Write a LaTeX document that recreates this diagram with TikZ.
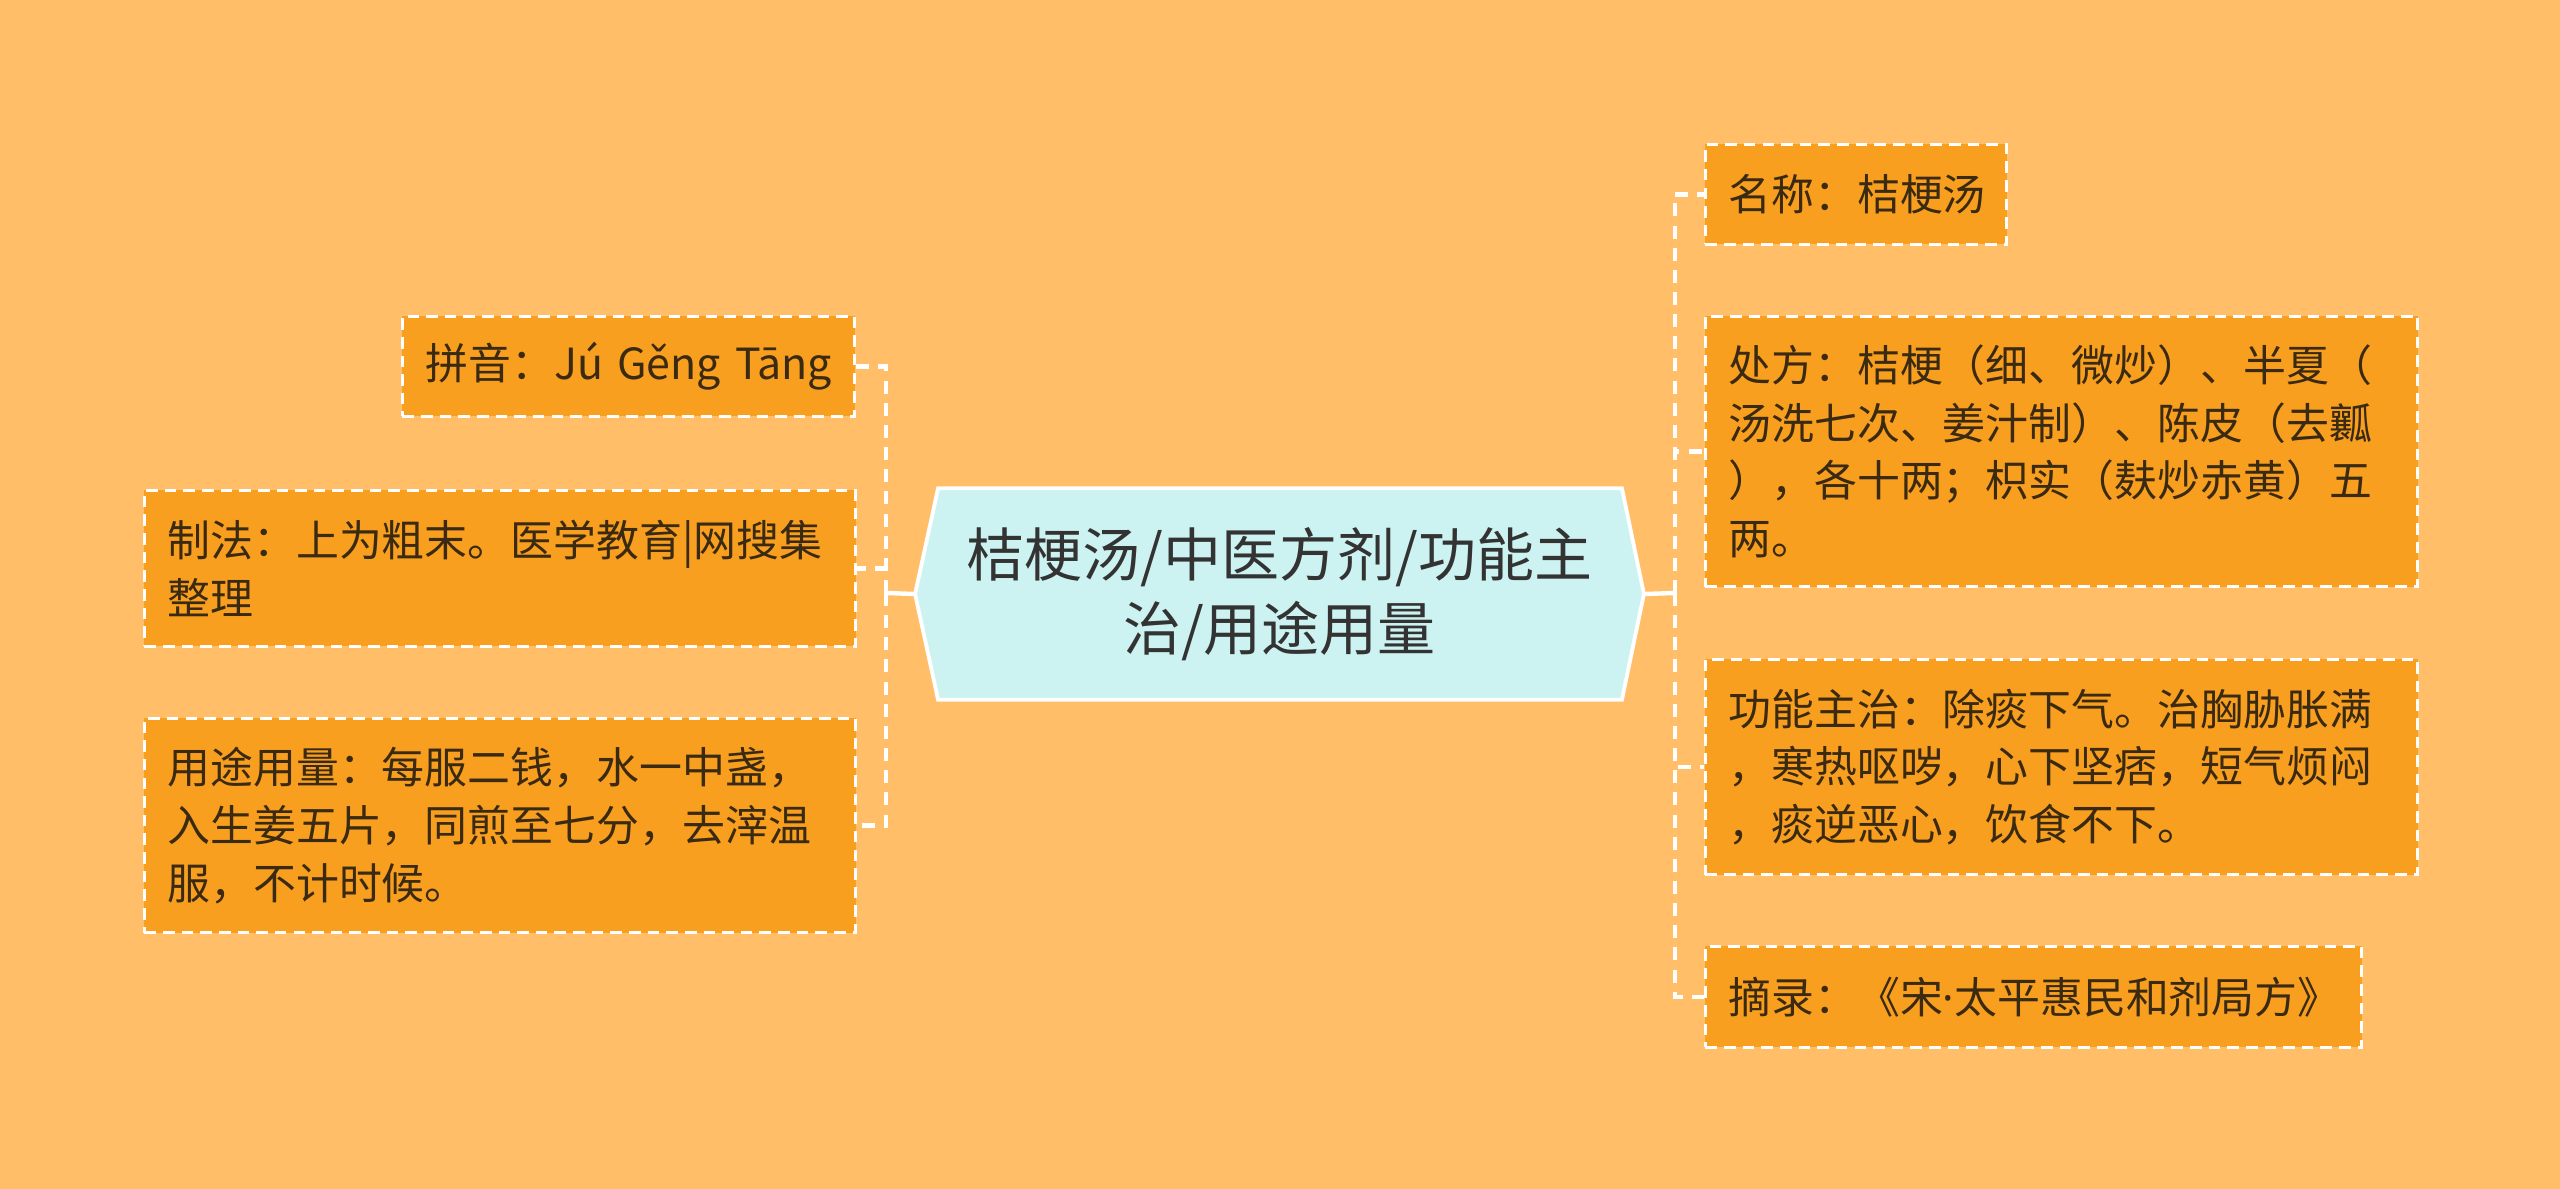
\documentclass[tikz,border=0pt]{standalone}
\usepackage{fontspec}
\setmainfont{Noto Sans CJK SC}
\newfontfamily\dotfont{Noto Sans}
\usetikzlibrary{backgrounds}
\definecolor{bgc}{HTML}{FFBE67}
\definecolor{boxc}{HTML}{F99F1F}
\definecolor{cenc}{HTML}{CCF3F1}
\definecolor{txtc}{HTML}{3A2A12}
\definecolor{ctxt}{HTML}{333333}
\tikzset{
  leaf/.style={rectangle, anchor=north west, fill=boxc, draw=white, line width=0.8pt,
    dash pattern=on 3.3pt off 2pt, text=txtc, align=left, inner xsep=0.23cm, inner ysep=0pt,
    font=\fontsize{12.2}{16.4}\selectfont},
  centre/.style={rectangle, minimum width=7.27cm, minimum height=2.10cm, align=center,
    text=ctxt, font=\fontsize{16.5}{21.2}\selectfont},
  hexa/.style={fill=cenc, draw=white, line width=1.1pt, line join=miter},
  stub/.style={draw=white, line width=1.25pt},
  link/.style={draw=white, line width=1.3pt, dash pattern=on 3.7pt off 2.6pt}
}
\begin{document}
\begin{tikzpicture}[x=0.01cm, y=-0.01cm]
\useasboundingbox (0,0) rectangle (2560,1189);
\begin{scope}[on background layer]
\fill[bgc] (0,0) rectangle (2560,1189);
\end{scope}

% centre
\node[centre] (c) at (1279.5,594) {桔梗汤/中医方剂/功能主\\治/用途用量};
\begin{scope}[on background layer]
\path[hexa] (c.west) -- ([xshift=0.23cm]c.north west) -- ([xshift=-0.22cm]c.north east)
  -- (c.east) -- ([xshift=-0.22cm]c.south east) -- ([xshift=0.23cm]c.south west) -- cycle;
\end{scope}

% right leaves
\node[leaf, text width=2.55cm, minimum height=1.00cm] (r1) at (1704,143) {名称：桔梗汤};
\node[leaf, text width=6.66cm, minimum height=2.70cm] (r2) at (1704,315)
  {处方：桔梗（细、微炒）、半夏（\\汤洗七次、姜汁制）、陈皮（去瓤\\），各十两；枳实（麸炒赤黄）五\\两。};
\node[leaf, text width=6.66cm, minimum height=2.15cm] (r3) at (1704,658)
  {功能主治：除痰下气。治胸胁胀满\\，寒热呕哕，心下坚痞，短气烦闷\\，痰逆恶心，饮食不下。};
\node[leaf, text width=6.10cm, minimum height=1.01cm] (r4) at (1704,945)
  {摘录：《宋{\dotfont ·}太平惠民和剂局方》};

% left leaves
\node[leaf, text width=4.06cm, minimum height=1.00cm] (l1) at (401,315) {\mbox{拼音：Jú Gěng Tāng}};
\node[leaf, text width=6.65cm, minimum height=1.56cm] (l2) at (143,489)
  {制法：上为粗末。医学教育|网搜集\\整理};
\node[leaf, text width=6.65cm, minimum height=2.14cm] (l3) at (143,717)
  {用途用量：每服二钱，水一中盏，\\入生姜五片，同煎至七分，去滓温\\服，不计时候。};

% junctions
\coordinate (jr) at (1675,593);
\coordinate (jl) at (886,593);
\draw[stub] (c.east) -- (jr);
\draw[stub] (c.west) -- (jl);
\foreach \n in {r1,r2,r3,r4} \draw[link] (jr) |- (\n.west);
\foreach \n in {l1,l2,l3} \draw[link] (jl) |- (\n.east);
\end{tikzpicture}
\end{document}
